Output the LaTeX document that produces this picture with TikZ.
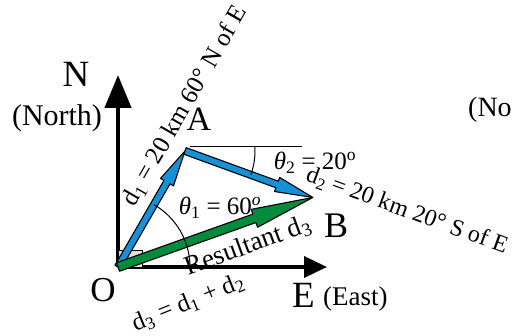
\documentclass[tikz,border=0pt]{standalone}
\usepackage{fontspec}
\setmainfont{Liberation Serif}
\usetikzlibrary{positioning, calc, arrows.meta}

\definecolor{vecblue}{RGB}{20,145,215}
\definecolor{vecgreen}{RGB}{0,140,60}

% filled vector: from, to, colour, shaft half width, head length, head half width
\newcommand{\fatvec}[6]{%
  \coordinate (hb) at ($(#2)!#5!(#1)$);
  \filldraw[vecline, fill=#3] ($(#1)!#4!-90:(#2)$) -- ($(hb)!#4!-90:(#2)$)
    -- ($(hb)!#6!-90:(#2)$) -- (#2) -- ($(hb)!#6!90:(#2)$)
    -- ($(hb)!#4!90:(#2)$) -- ($(#1)!#4!90:(#2)$) -- cycle;
}

\tikzset{
  vecline/.style={draw=black, line width=1.1pt, line join=round},
  bigletter/.style={font=\fontsize{37}{40}\selectfont, inner sep=0pt},
  dirword/.style={font=\fontsize{30}{33}\selectfont, inner sep=0pt},
  lbl/.style={font=\fontsize{25}{27}\selectfont, inner sep=0pt},
}

\begin{document}
\begin{tikzpicture}[x=1pt, y=1pt]

    \useasboundingbox (0,0) rectangle (513,335);

    % ---------------------------------------------------
    % Points
    % ---------------------------------------------------
    \coordinate (O) at (118,68);
    \coordinate (A) at ($(O)+(60:134)$);
    \coordinate (B) at ($(A)+(-20:136)$);

    % ---------------------------------------------------
    % Axes
    % ---------------------------------------------------
    \coordinate (Ntip) at (118,260);
    \coordinate (Etip) at (327,68);
    \draw[line width=4.5pt, -{Triangle[length=33pt, width=26pt]}] (O) -- (Ntip);
    \draw[line width=3.5pt, -{Triangle[length=23pt, width=21pt]}] (O) -- (Etip);

    % right angle box at the origin
    \filldraw[fill=gray!25, line width=0.8pt] (O) rectangle ++(24,17);

    % ---------------------------------------------------
    % Vectors
    % ---------------------------------------------------
    \fatvec{O}{A}{vecblue}{3.5pt}{36pt}{7.5pt}
    \fatvec{O}{B}{vecgreen}{4.5pt}{62pt}{9.5pt}
    \fatvec{A}{B}{vecblue}{3.5pt}{38pt}{7.5pt}

    % ---------------------------------------------------
    % Angles
    % ---------------------------------------------------
    \draw[line width=1pt] ($(A)+(5,4)$) -- ++(112,0);
    \draw[line width=1pt] ($(O)+(72,0)$) arc[start angle=0, end angle=60, radius=72];
    \draw[line width=1pt] ($(A)+(3.3:70)$) arc[start angle=3.3, end angle=-20, radius=70];

    % ---------------------------------------------------
    % Labels
    % ---------------------------------------------------
    \node[bigletter] (nN) at (76,260.5) {N};
    \node[dirword] (nNorth) at (57,217) {(North)};
    \node[dirword, font=\fontsize{28}{31}\selectfont, anchor=west] (nNo) at (468,225) {(No};
    \node[bigletter] (nE) at (303.5,40) {E};
    \node[dirword, font=\fontsize{27}{30}\selectfont, anchor=west] (nEast) at (323,36) {(East)};
    \node[bigletter, font=\fontsize{35}{38}\selectfont] (nO) at (103,45) {O};
    \node[bigletter, font=\fontsize{34}{37}\selectfont] (nA) at (199,216) {A};
    \node[bigletter, font=\fontsize{36}{39}\selectfont] (nB) at (336,109) {B};

    \node[lbl, rotate=60] (dOne) at (185,229)
      {d\textsubscript{1} = 20 km 60° N of E};
    \node[lbl, font=\fontsize{24}{26}\selectfont, rotate=-20] (dTwo) at (407,124)
      {d\textsubscript{2} = 20 km 20° S of E};
    \node[lbl] (thTwo) at (315,172)
      {\textit{θ}\textsubscript{2} = 20\textsuperscript{o}};
    \node[lbl] (thOne) at (220,127)
      {\textit{θ}\textsubscript{1} = 60\textsuperscript{\textit{o}}};
    \node[lbl, font=\fontsize{27}{29}\selectfont, rotate=20] (res) at (248,89)
      {Resultant d\textsubscript{3}};
    \node[lbl, rotate=22] (sum) at (188,32)
      {d\textsubscript{3} = d\textsubscript{1} + d\textsubscript{2}};

\end{tikzpicture}
\end{document}
